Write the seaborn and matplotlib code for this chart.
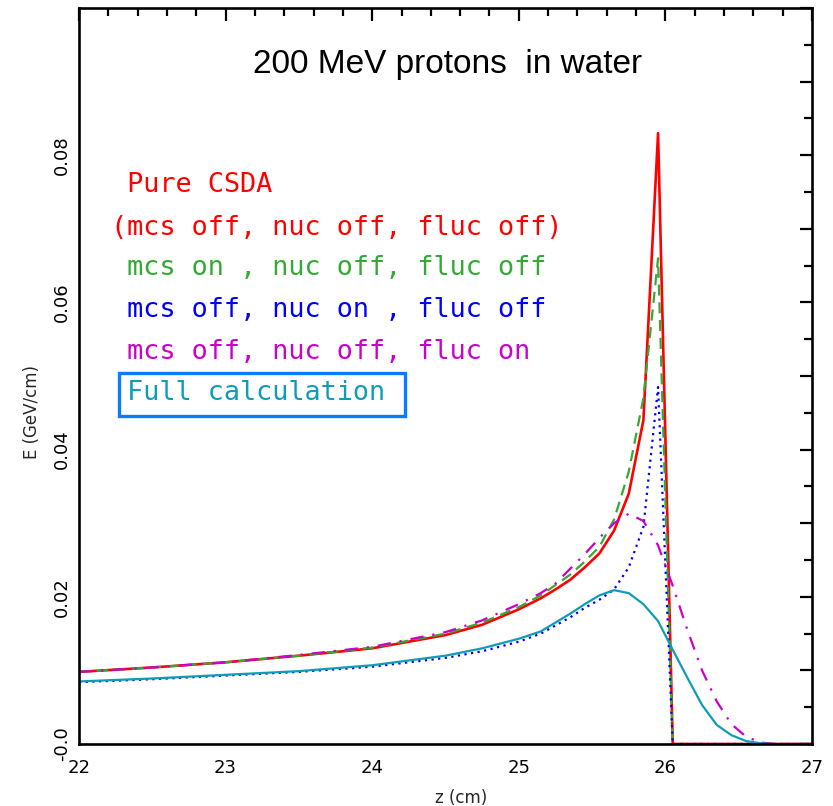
import matplotlib
matplotlib.use("Agg")
import matplotlib.pyplot as plt
import seaborn as sns
import pandas as pd
from matplotlib.ticker import MultipleLocator, FuncFormatter
from matplotlib.patches import Rectangle
from matplotlib import font_manager

# ---------------- data ----------------
z = [22.0, 22.5, 23.0, 23.5, 24.0, 24.5, 24.75, 25.0, 25.15, 25.25, 25.35, 25.45,
     25.55, 25.65, 25.75, 25.85, 25.95, 26.05, 26.15, 26.25, 26.35, 26.45, 26.55,
     26.65, 26.75, 26.85, 27.0]
csda = [0.0098, 0.0104, 0.0111, 0.0120, 0.0130, 0.0148, 0.0162, 0.0183, 0.0198, 0.0210,
        0.0223, 0.0240, 0.0259, 0.0290, 0.0340, 0.0440, 0.0830, 0.0, 0.0, 0.0, 0.0,
        0.0, 0.0, 0.0, 0.0, 0.0, 0.0]
mcs_on = [0.0098, 0.0104, 0.0111, 0.0120, 0.0131, 0.0150, 0.0165, 0.0186, 0.0202, 0.0216,
          0.0230, 0.0248, 0.0268, 0.0305, 0.0370, 0.0470, 0.0660, 0.0, 0.0, 0.0, 0.0,
          0.0, 0.0, 0.0, 0.0, 0.0, 0.0]
nuc_on = [0.0084, 0.0088, 0.0093, 0.0098, 0.0105, 0.0117, 0.0126, 0.0139, 0.0150, 0.0161,
          0.0172, 0.0185, 0.0196, 0.0210, 0.0240, 0.0295, 0.0485, 0.0, 0.0, 0.0, 0.0,
          0.0, 0.0, 0.0, 0.0, 0.0, 0.0]
fluc_on = [0.0098, 0.0104, 0.0111, 0.0121, 0.0132, 0.0152, 0.0168, 0.0190, 0.0205, 0.0218,
           0.0238, 0.0258, 0.0280, 0.0300, 0.0313, 0.0303, 0.0270, 0.0215, 0.0155, 0.0100,
           0.0058, 0.0027, 0.0010, 0.0002, 0.0, 0.0, 0.0]
full = [0.0085, 0.0089, 0.0094, 0.0099, 0.0107, 0.0120, 0.0130, 0.0143, 0.0153, 0.0165,
        0.0177, 0.0190, 0.0202, 0.0209, 0.0205, 0.0190, 0.0167, 0.0128, 0.0090, 0.0053,
        0.0026, 0.0012, 0.0004, 0.0001, 0.0, 0.0, 0.0]

legend_lines = [" Pure CSDA",
                "(mcs off, nuc off, fluc off)",
                " mcs on , nuc off, fluc off",
                " mcs off, nuc on , fluc off",
                " mcs off, nuc off, fluc on",
                " Full calculation"]
title = "200 MeV protons  in water"
ytick_vals = [0.0, 0.02, 0.04, 0.06, 0.08]
ytick_text = ["-0.0", "0.02", "0.04", "0.06", "0.08"]

RED, GREEN, BLUE, MAG, CYAN = "#ff0000", "#33aa33", "#0000ff", "#cc00cc", "#0f9db5"

# ---------------- figure ----------------
sns.set_theme(style="white")
plt.rcParams['font.family'] = ['DejaVu Sans']

W, H = 833, 806
fig = plt.figure(figsize=(W / 100, H / 100), dpi=100)
L, R, T, B = 79, 812, 8, 744
ax = fig.add_axes([L / W, 1 - B / H, (R - L) / W, (B - T) / H])

df = pd.DataFrame({"z": z, "csda": csda, "mcs": mcs_on, "nuc": nuc_on,
                   "fluc": fluc_on, "full": full})

sns.lineplot(data=df, x="z", y="csda", ax=ax, color=RED, lw=1.9, sort=False)
sns.lineplot(data=df, x="z", y="mcs", ax=ax, color=GREEN, lw=1.6, sort=False,
             linestyle=(0, (5, 3)))
sns.lineplot(data=df, x="z", y="nuc", ax=ax, color=BLUE, lw=1.6, sort=False,
             linestyle=(0, (1, 2)))
sns.lineplot(data=df, x="z", y="fluc", ax=ax, color=MAG, lw=1.6, sort=False,
             linestyle=(0, (6, 4, 1, 4)))
sns.lineplot(data=df, x="z", y="full", ax=ax, color=CYAN, lw=1.6, sort=False)

ax.set_xlim(22, 27)
ax.set_ylim(0, 0.1)

for sp in ax.spines.values():
    sp.set_visible(True)
    sp.set_color("black")
    sp.set_linewidth(1.9)

ax.xaxis.set_major_locator(MultipleLocator(1))
ax.xaxis.set_minor_locator(MultipleLocator(0.2))
ax.yaxis.set_major_locator(MultipleLocator(0.01))
ax.yaxis.set_minor_locator(MultipleLocator(0.005))

lab_map = {round(v, 3): t for v, t in zip(ytick_vals, ytick_text)}
ax.yaxis.set_major_formatter(FuncFormatter(lambda v, p: lab_map.get(round(v, 3), "")))
ax.xaxis.set_major_formatter(FuncFormatter(lambda v, p: "%d" % round(v)))

ax.tick_params(which="both", direction="in", top=True, right=True, width=1.6,
               colors="black")
ax.tick_params(which="major", length=9)
ax.tick_params(which="minor", length=5.5)
ax.tick_params(axis="x", which="major", labelsize=13, pad=11)
ax.tick_params(axis="y", which="major", labelsize=13, pad=6, labelrotation=90)
for lab in ax.get_yticklabels():
    lab.set_verticalalignment("center")

ax.set_xlabel("z (cm)", fontsize=12)
ax.set_ylabel("E (GeV/cm)", fontsize=12)
ax.xaxis.set_label_coords((461 - L) / (R - L), -(798 - B) / (B - T))
ax.yaxis.set_label_coords(-(79 - 32) / (R - L), 1 - (412 - T) / (B - T))
ax.xaxis.label.set_va("center")
ax.yaxis.label.set_va("center")

# title
def has_font(name):
    try:
        font_manager.findfont(name, fallback_to_default=False)
        return True
    except Exception:
        return False

tfam = "Liberation Sans Narrow" if has_font("Liberation Sans Narrow") else "Liberation Sans"
fig.text(448 / W, 1 - 65 / H, title, ha="center", va="center", fontsize=24,
         family=tfam, color="black")

# legend block
cols = [RED, RED, GREEN, BLUE, MAG, CYAN]
ys = [185, 228, 268, 310, 352, 393]
for txt, c, yy in zip(legend_lines, cols, ys):
    fig.text(111 / W, 1 - yy / H, txt, ha="left", va="center", fontsize=19.4,
             family="DejaVu Sans Mono", color=c)
fig.patches.append(Rectangle((119 / W, 1 - 416 / H), (405 - 119) / W, (416 - 373) / H,
                             transform=fig.transFigure, fill=False,
                             edgecolor="#0a7cff", lw=2.4))

fig.savefig("out.png", dpi=100)
